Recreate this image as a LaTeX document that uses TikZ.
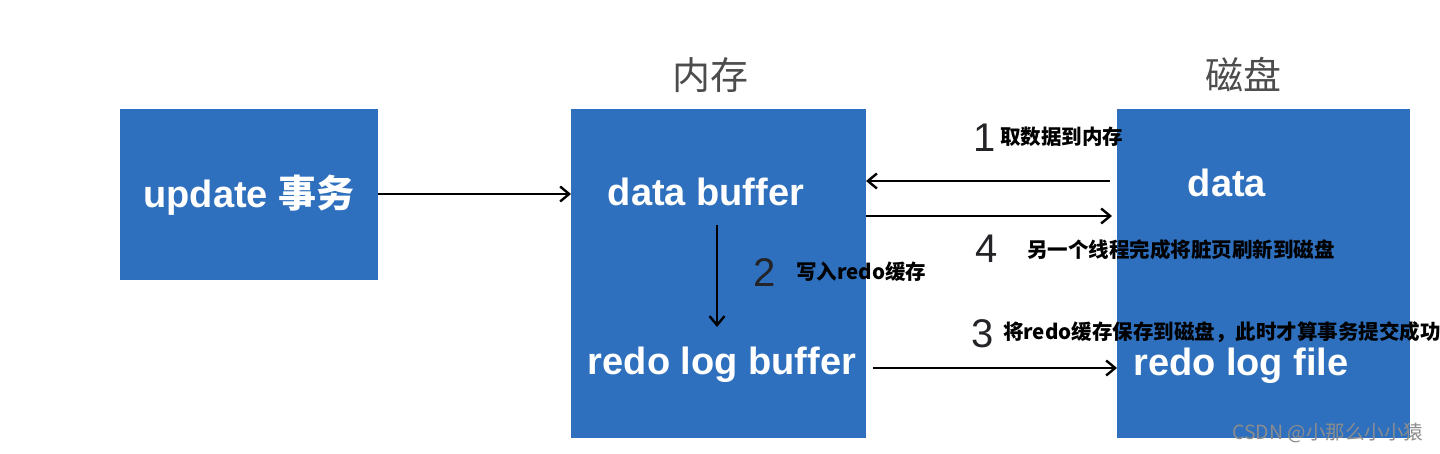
\documentclass[tikz,border=0pt]{standalone}
\usepackage{fontspec}
\setmainfont{Liberation Sans}
\newfontfamily\cjk{Noto Sans CJK SC}
\usetikzlibrary{arrows.meta}
\definecolor{boxblue}{RGB}{46,112,190}
\definecolor{numgray}{RGB}{35,35,40}
\tikzset{
  bluebox/.style={draw=none, fill=boxblue},
  boxtxt/.style={text=white, font=\bfseries\fontsize{38}{40}\selectfont, inner sep=0pt},
  conn/.style={line width=2.6pt, -{Straight Barb[length=9pt,width=15pt,line width=2.4pt]}},
  numlbl/.style={text=numgray, font=\fontsize{40}{42}\selectfont, inner sep=0pt},
  steplbl/.style={text=black, font=\cjk\bfseries\fontsize{20.5}{22}\selectfont, inner sep=0pt, anchor=west},
  headlbl/.style={text=black!70, font=\cjk\fontsize{38}{40}\selectfont, inner sep=0pt}
}
\begin{document}
\begin{tikzpicture}[x=1pt,y=-1pt]
\useasboundingbox (0,0) rectangle (1440,453);
% boxes
\fill[bluebox] (120,109) rectangle (378,280);
\fill[bluebox] (571,109) rectangle (866,438);
\fill[bluebox] (1117,109) rectangle (1410,438);
\coordinate (updR) at (378,194);
\coordinate (memL) at (571,194);
% headers
\node[headlbl] (mem) at (710,75) {内存};
\node[headlbl] (disk) at (1243,75) {磁盘};
% box texts
\node[boxtxt] (upd) at (249,195) {update {\cjk 事务}};
\node[boxtxt] (db) at (706,192) {data buffer};
\node[boxtxt] (rlb) at (722,365) {redo log buffer};
\node[boxtxt] (data) at (1227,183) {data};
\node[boxtxt] (rlf) at (1241,366) {redo log file};
% arrow endpoints
\coordinate (a1s) at (1110,181); \coordinate (a1e) at (866,181);
\coordinate (a4s) at (866,216); \coordinate (a4e) at (1112,216);
\coordinate (a2s) at (717,225); \coordinate (a2e) at (717,327);
\coordinate (a3s) at (873,368); \coordinate (a3e) at (1117,368);
\draw[conn] (updR) -- (memL);
\draw[conn] (a1s) -- (a1e);
\draw[conn] (a4s) -- (a4e);
\draw[conn] (a2s) -- (a2e);
\draw[conn] (a3s) -- (a3e);
% step labels
\node[numlbl] (n1) at (985,138) {1};
\node[steplbl] (t1) at (1000,137) {取数据到内存};
\node[numlbl] (n4) at (987,249) {4};
\node[steplbl] (t4) at (1027,250) {另一个线程完成将脏页刷新到磁盘};
\node[numlbl] (n2) at (765,273) {2};
\node[steplbl] (t2) at (796,272) {写入redo缓存};
\node[numlbl] (n3) at (983,334) {3};
\node[steplbl] (t3) at (1003,332) {将redo缓存保存到磁盘，此时才算事务提交成功};
% watermark
\node[text=black!45, font=\cjk\fontsize{19.5}{20}\selectfont, inner sep=0pt, anchor=west] (wm) at (1232,433) {CSDN @小那么小小猿};
\end{tikzpicture}
\end{document}
